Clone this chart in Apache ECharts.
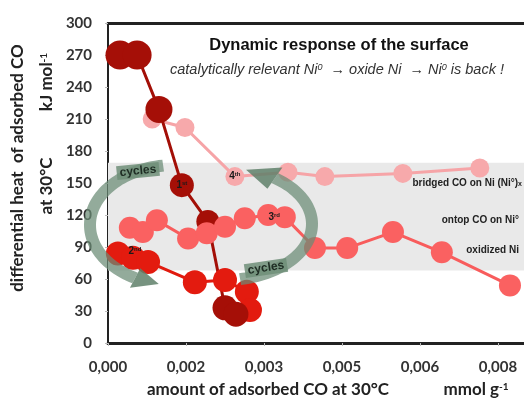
<!DOCTYPE html>
<html><head><meta charset="utf-8">
<script src="https://cdn.jsdelivr.net/npm/echarts@6/dist/echarts.min.js"></script>
<style>html,body{margin:0;padding:0;background:#fff}#c{width:524px;height:403px}</style>
</head><body><div id="c"></div>
<script>
// ---- data ----
const cycle1X = [0.00023, 0.00056, 0.00098, 0.00142, 0.00192, 0.00225, 0.00246];
const cycle1Y = [270, 270, 219, 148, 114, 33, 27];
const cycle2X = [0.00019, 0.00048, 0.00077, 0.00167, 0.00225, 0.00267, 0.00273];
const cycle2Y = [84, 80, 76, 57, 59, 48, 31];
const cycle3X = [0.00042, 0.00067, 0.00094, 0.00154, 0.00190, 0.00225, 0.00263, 0.00308, 0.00340, 0.00398, 0.00460, 0.00548, 0.00642, 0.00773];
const cycle3Y = [108, 104, 115, 98, 103, 109, 117, 120, 118, 89, 89, 104, 85, 54];
const cycle4X = [0.00085, 0.00148, 0.00244, 0.00346, 0.00417, 0.00567, 0.00715];
const cycle4Y = [210, 202, 156, 160, 156, 159, 164];
const xTickLabels = ['0,000', '0,002', '0,003', '0,005', '0,006', '0,008'];
const bandRange = [68, 169];
const cycleNames = ['1st', '2nd', '3rd', '4th'];
const cycleLabelIndex = [3, 1, 7, 2];

const pairs = (xs, ys) => xs.map((x, i) => [x, ys[i]]);

function ringPts(cx, cy, rx, ry, a0, a1, w, steps) {
  const outer = [], inner = [];
  for (let i = 0; i <= steps; i++) {
    const a = (a0 + (a1 - a0) * i / steps) * Math.PI / 180;
    outer.push([cx + (rx + w / 2) * Math.cos(a), cy + (ry + w / 2) * Math.sin(a)]);
    inner.push([cx + (rx - w / 2) * Math.cos(a), cy + (ry - w / 2) * Math.sin(a)]);
  }
  return outer.concat(inner.reverse());
}
function headPts(cx, cy, rx, ry, a1, aTip, hw) {
  const a = a1 * Math.PI / 180, t = aTip * Math.PI / 180;
  return [[cx + (rx + hw) * Math.cos(a), cy + (ry + hw) * Math.sin(a)],
          [cx + rx * Math.cos(t), cy + ry * Math.sin(t)],
          [cx + (rx - hw) * Math.cos(a), cy + (ry - hw) * Math.sin(a)]];
}
const arrowFill = 'rgba(105,138,116,0.72)';
const arrowHead = 'rgba(95,128,106,0.85)';

function ordinal(name) {
  return '{b|' + name.charAt(0) + '}{s|' + name.slice(1) + '}';
}
const ordRich = {
  b: {fontSize: 10, fontWeight: 'bold', color: '#1a1a1a', fontFamily: 'Liberation Sans'},
  s: {fontSize: 6, fontWeight: 'bold', color: '#1a1a1a', fontFamily: 'Liberation Sans', verticalAlign: 'top'}
};
function ordLabel(k, offset) {
  return {
    show: true, position: 'inside', offset: offset || [0, 0],
    formatter: p => p.dataIndex === cycleLabelIndex[k] ? ordinal(cycleNames[k]) : '',
    rich: ordRich
  };
}

const chart = echarts.init(document.getElementById('c'));
const boldFont = 'Lato';
const narrowFont = 'Liberation Sans';
chart.setOption({
  animation: false,
  backgroundColor: '#fff',
  grid: {left: 108, right: 0, top: 23, bottom: 60},
  xAxis: [{
    type: 'value', min: 0, max: 0.008, interval: 0.0015,
    axisLine: {show: true, lineStyle: {color: '#222', width: 3}},
    axisTick: {show: true, length: 3, lineStyle: {color: '#bbb'}},
    splitLine: {show: false},
    axisLabel: {
      showMaxLabel: false, margin: 17, fontSize: 15, fontWeight: 'bold', color: '#333', fontFamily: boldFont,
      formatter: (v, i) => xTickLabels[i] || ''
    }
  }, {
    type: 'value', position: 'top', min: 0, max: 0.008,
    axisLine: {show: true, lineStyle: {color: '#222', width: 3}},
    axisTick: {show: false}, axisLabel: {show: false}, splitLine: {show: false}
  }],
  yAxis: {
    type: 'value', min: 0, max: 300, interval: 30,
    axisLine: {show: true, lineStyle: {color: '#222', width: 2}},
    axisTick: {show: true, length: 3, lineStyle: {color: '#bbb'}},
    splitLine: {show: false},
    axisLabel: {margin: 16, fontSize: 15, fontWeight: 'bold', color: '#333', fontFamily: boldFont}
  },
  series: [
    {
      type: 'line', data: pairs(cycle4X, cycle4Y), symbol: 'circle', symbolSize: 19,
      lineStyle: {color: '#f6a4a7', width: 3}, itemStyle: {color: '#f7a9ab'},
      label: ordLabel(3, [0, 0]),
      markArea: {silent: true, itemStyle: {color: '#e9e9e9'},
        data: [[{yAxis: bandRange[0]}, {yAxis: bandRange[1]}]]}
    },
    {
      type: 'line', data: pairs(cycle2X, cycle2Y), symbol: 'circle', symbolSize: 24,
      lineStyle: {color: '#e11a0e', width: 3}, itemStyle: {color: '#e31b0f'},
      label: ordLabel(1, [2, -6])
    },
    {
      type: 'line', data: pairs(cycle1X, cycle1Y), symbol: 'circle',
      symbolSize: (v, p) => [29, 29, 27, 24, 23, 25, 25][p.dataIndex],
      lineStyle: {color: '#a30f07', width: 3}, itemStyle: {color: '#a50f07'},
      label: ordLabel(0, [0, 0])
    },
    {
      type: 'line', data: pairs(cycle3X, cycle3Y), symbol: 'circle', symbolSize: 22,
      lineStyle: {color: '#f85c5c', width: 3}, itemStyle: {color: '#fa6161'},
      label: ordLabel(2, [6, 2])
    }
  ],
  graphic: [
    // cycle arrows
    {type: 'polygon', z: 100, shape: {points: ringPts(175, 225, 85, 60, 262, 118, 12, 60)}, style: {fill: arrowFill}},
    {type: 'polygon', z: 100, shape: {points: headPts(175, 225, 85, 60, 118, 101, 11)}, style: {fill: arrowHead}},
    {type: 'polygon', z: 100, shape: {points: ringPts(225, 224, 87, 56, 80, -55, 12, 60)}, style: {fill: arrowFill}},
    {type: 'polygon', z: 100, shape: {points: headPts(225, 224, 87, 56, -55, -76, 13)}, style: {fill: arrowHead}},
    {type: 'text', z: 101, x: 138, y: 171, rotation: 0.1,
      style: {text: 'cycles', fontSize: 12, fontWeight: 'bold', fontFamily: 'Liberation Sans', fill: '#1f2d24',
        align: 'center', verticalAlign: 'middle', backgroundColor: 'rgba(110,142,120,0.85)', padding: [1, 3]}},
    {type: 'text', z: 101, x: 266, y: 268, rotation: 0.15,
      style: {text: 'cycles', fontSize: 12, fontWeight: 'bold', fontFamily: 'Liberation Sans', fill: '#1f2d24',
        align: 'center', verticalAlign: 'middle', backgroundColor: 'rgba(110,142,120,0.85)', padding: [1, 3]}},
    // title
    {type: 'text', z: 50, x: 339, y: 45, style: {text: 'Dynamic response of the surface', fontSize: 16.5, fontWeight: 'bold',
      fontFamily: 'Liberation Sans', fill: '#111', align: 'center', verticalAlign: 'middle'}},
    {type: 'text', z: 50, x: 337, y: 70, style: {
      text: '{i|catalytically relevant Ni}{s|0}{i|  \u2192 oxide Ni  \u2192 Ni}{s|0}{i| is back !}',
      align: 'center', verticalAlign: 'middle',
      rich: {
        i: {fontSize: 14.5, fontStyle: 'italic', fontFamily: 'Liberation Sans', fill: '#333'},
        s: {fontSize: 9, fontStyle: 'italic', fontFamily: 'Liberation Sans', fill: '#333', verticalAlign: 'top'}
      }}},
    // band labels
    {type: 'text', z: 50, x: 522, y: 183, style: {
      text: '{a|bridged CO on Ni (Ni\u00b0)}{x|x}', align: 'right', verticalAlign: 'middle',
      rich: {
        a: {fontSize: 10, fontWeight: 'bold', fontFamily: narrowFont, fill: '#222'},
        x: {fontSize: 7, fontWeight: 'bold', fontFamily: narrowFont, fill: '#222', verticalAlign: 'bottom'}
      }}},
    {type: 'text', z: 50, x: 519, y: 220, style: {text: 'ontop CO on Ni\u00b0', fontSize: 10, fontWeight: 'bold',
      fontFamily: narrowFont, fill: '#222', align: 'right', verticalAlign: 'middle'}},
    {type: 'text', z: 50, x: 519, y: 250, style: {text: 'oxidized Ni', fontSize: 10, fontWeight: 'bold',
      fontFamily: narrowFont, fill: '#222', align: 'right', verticalAlign: 'middle'}},
    // axis names
    {type: 'text', z: 50, x: 18, y: 168, rotation: Math.PI / 2, style: {text: 'differential heat  of adsorbed CO',
      fontSize: 17, fontWeight: 'bold', fontFamily: boldFont, fill: '#222', align: 'center', verticalAlign: 'middle'}},
    {type: 'text', z: 50, x: 47, y: 82, rotation: Math.PI / 2, style: {
      text: '{n|kJ mol}{s|-1}', align: 'center', verticalAlign: 'middle',
      rich: {
        n: {fontSize: 17, fontWeight: 'bold', fontFamily: boldFont, fill: '#222'},
        s: {fontSize: 10, fontWeight: 'bold', fontFamily: boldFont, fill: '#222', verticalAlign: 'top'}
      }}},
    {type: 'text', z: 50, x: 47, y: 186, rotation: Math.PI / 2, style: {text: 'at 30\u00b0C',
      fontSize: 17, fontWeight: 'bold', fontFamily: boldFont, fill: '#222', align: 'center', verticalAlign: 'middle'}},
    {type: 'text', z: 50, x: 268, y: 390, style: {text: 'amount of adsorbed CO at 30\u00b0C',
      fontSize: 17, fontWeight: 'bold', fontFamily: boldFont, fill: '#222', align: 'center', verticalAlign: 'middle'}},
    {type: 'text', z: 50, x: 476, y: 390, style: {
      text: '{n|mmol g}{s|-1}', align: 'center', verticalAlign: 'middle',
      rich: {
        n: {fontSize: 17, fontWeight: 'bold', fontFamily: boldFont, fill: '#222'},
        s: {fontSize: 10, fontWeight: 'bold', fontFamily: boldFont, fill: '#222', verticalAlign: 'top'}
      }}}
  ]
});
</script></body></html>
